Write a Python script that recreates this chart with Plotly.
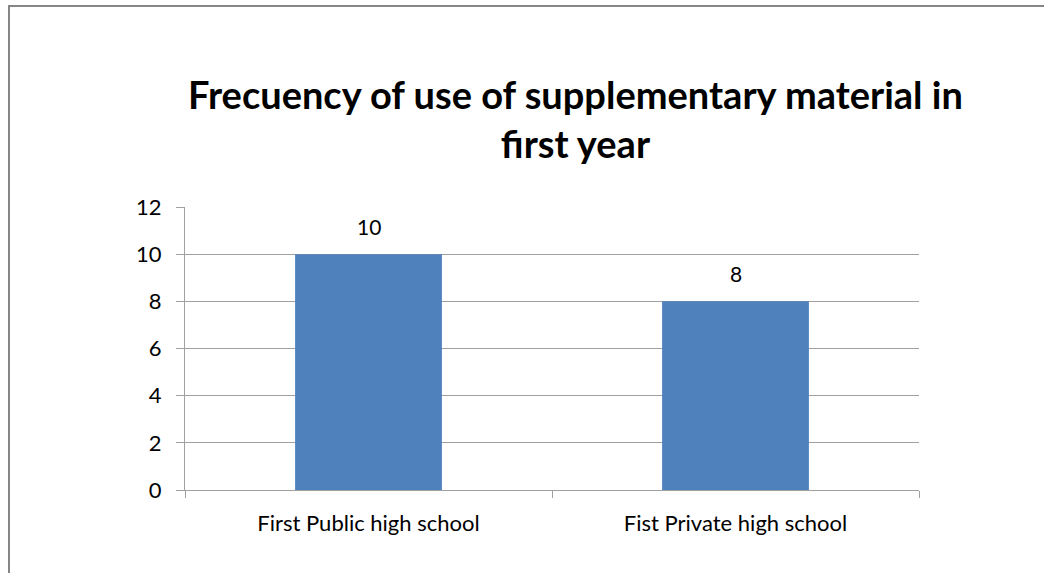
import plotly.graph_objects as go

categories = ["First Public high school", "Fist Private high school"]
values = [10, 8]
title_text = "Frecuency of use of supplementary material in<br>first year"

W, H = 1044, 573
L, R, T, B = 185, 919, 207, 490
pw, ph = R - L, B - T

fig = go.Figure()
fig.add_trace(go.Bar(
    x=categories, y=values, marker_color="#4f81bd", width=0.4,
    marker_line_width=0,
))

for c, v in zip(categories, values):
    fig.add_annotation(x=c, y=v, text=str(v), showarrow=False, yanchor="bottom",
                       yshift=13, font=dict(size=21, color="#000000", family="Lato"))

fig.add_annotation(xref="paper", yref="paper", x=(575 - L) / pw, y=(B - 118) / ph,
                   text="<b>" + title_text + "</b>", showarrow=False,
                   font=dict(size=38, color="#000000", family="Lato"),
                   xanchor="center", yanchor="middle", align="center")

fig.add_shape(type="rect", xref="paper", yref="paper",
              x0=(9 - L) / pw, x1=2, y0=-1, y1=(B - 6) / ph,
              line=dict(color="#868686", width=2), fillcolor="rgba(0,0,0,0)", layer="below")

fig.update_layout(
    width=W, height=H,
    margin=dict(l=L, r=W - R, t=T, b=H - B, pad=0),
    paper_bgcolor="white", plot_bgcolor="white",
    showlegend=False,
    font=dict(family="Lato", size=20, color="#000000"),
    xaxis=dict(showline=True, linecolor="#a0a0a0", linewidth=1, ticks="outside",
               tickson="boundaries", ticklen=7, tickcolor="#a0a0a0", showgrid=False,
               tickfont=dict(size=22), range=[-0.5, 1.5], ticklabelstandoff=14),
    yaxis=dict(range=[0, 12], dtick=2, showline=True, linecolor="#a0a0a0", linewidth=1,
               ticks="outside", ticklen=8, tickcolor="#a0a0a0", showgrid=True,
               gridcolor="#a0a0a0", gridwidth=1, zeroline=False, tickfont=dict(size=22),
               ticklabelstandoff=10),
)

fig.write_html("out.html")
